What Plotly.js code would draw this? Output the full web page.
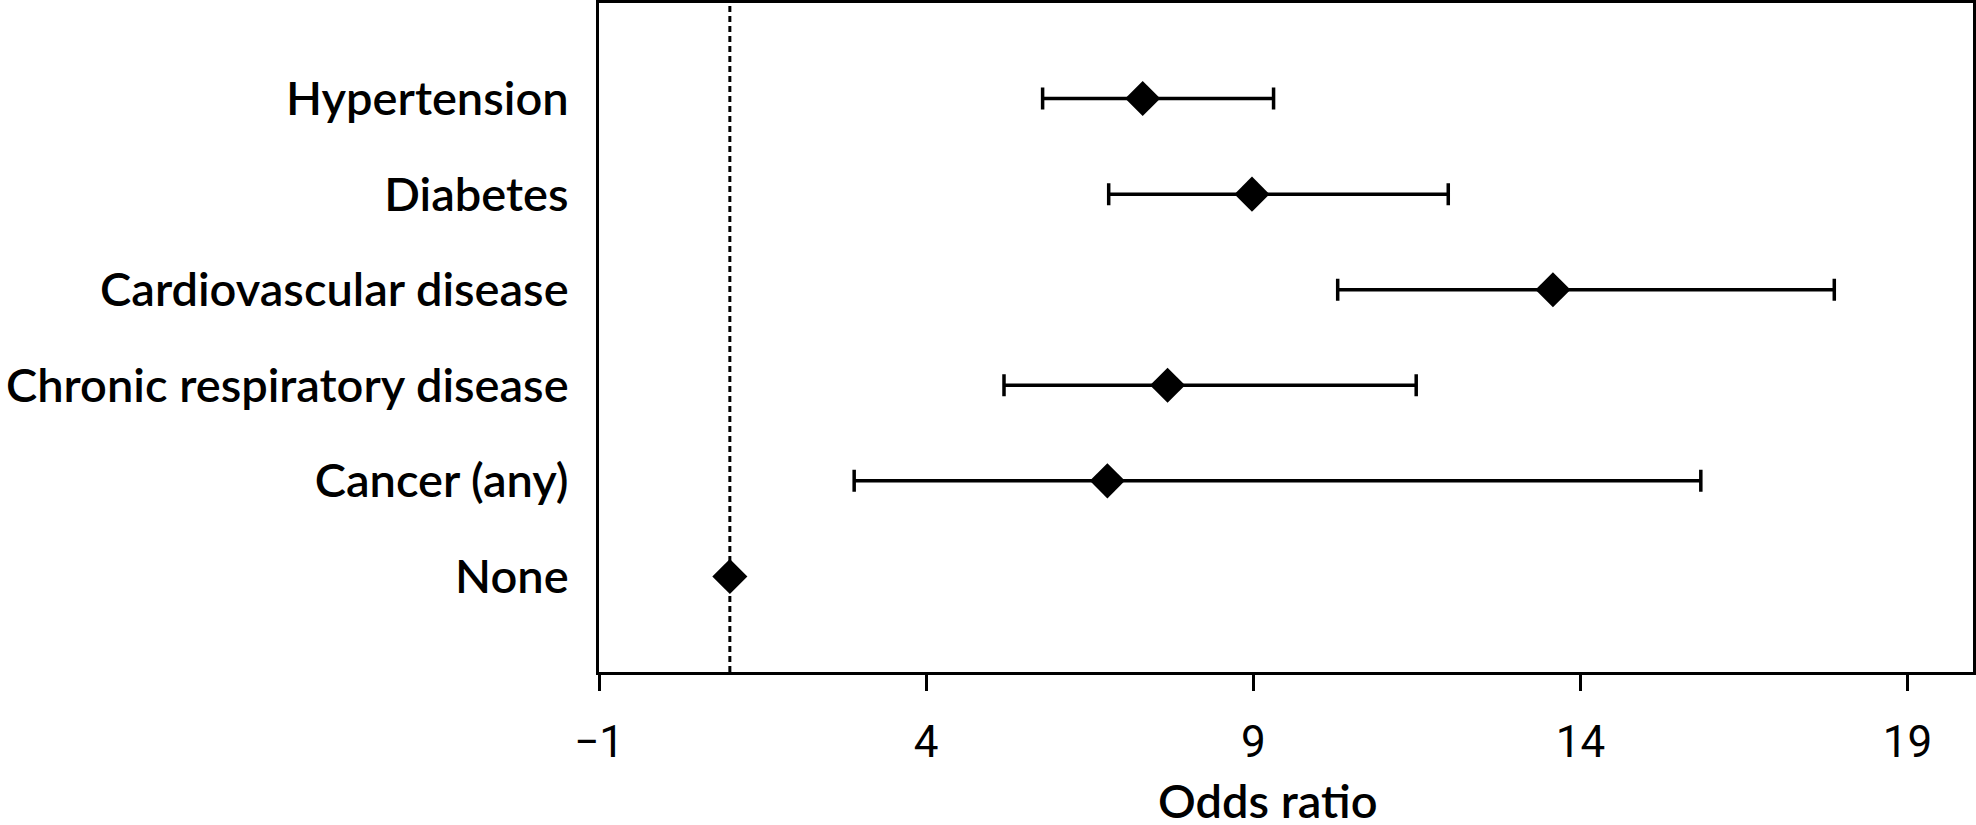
<!DOCTYPE html>
<html>
<head>
<meta charset="utf-8">
<script src="https://cdn.plot.ly/plotly-3.0.1.min.js"></script>
<style>
  html, body { margin: 0; padding: 0; background: #ffffff; }
  #chart { width: 1976px; height: 825px; }
</style>
</head>
<body>
<div id="chart"></div>
<script>
// Categories (top to bottom as shown)
const categories = [
  "Hypertension",
  "Diabetes",
  "Cardiovascular disease",
  "Chronic respiratory disease",
  "Cancer (any)",
  "None"
];
// Odds ratio point estimates
const oddsRatio = [7.31, 8.98, 13.58, 7.69, 6.77, 1.0];
// 95% CI lower / upper bounds
const ciLower = [5.78, 6.79, 10.29, 5.19, 2.90, 1.0];
const ciUpper = [9.31, 11.98, 17.88, 11.49, 15.84, 1.0];
// Reference line (no effect)
const referenceValue = 1;
// X axis tick values
const xTicks = [-1, 4, 9, 14, 19];
const xTitle = "Odds ratio";

const errPlus = oddsRatio.map((v, i) => ciUpper[i] - v);
const errMinus = oddsRatio.map((v, i) => v - ciLower[i]);

const trace = {
  type: "scatter",
  mode: "markers",
  x: oddsRatio,
  y: categories,
  marker: { symbol: "diamond", size: 27, color: "#000000" },
  error_x: {
    type: "data",
    symmetric: false,
    array: errPlus,
    arrayminus: errMinus,
    color: "#000000",
    thickness: 3.5,
    width: 11
  },
  hoverinfo: "skip",
  cliponaxis: false
};

const layout = {
  width: 1976,
  height: 825,
  margin: { l: 599, r: 3, t: 3, b: 153 },
  paper_bgcolor: "#ffffff",
  plot_bgcolor: "#ffffff",
  showlegend: false,
  xaxis: {
    range: [-1, 20],
    tickvals: xTicks,
    ticks: "outside",
    ticklen: 16,
    tickwidth: 3,
    tickcolor: "#000000",
    showline: true,
    linewidth: 3,
    linecolor: "#000000",
    mirror: true,
    showgrid: false,
    zeroline: false,
    ticklabelstandoff: 13,
    tickfont: { family: "Roboto", size: 44, color: "#000000", weight: 400 }
  },
  yaxis: {
    type: "category",
    categoryorder: "array",
    categoryarray: categories.slice().reverse(),
    range: [-1, 6],
    ticks: "",
    showline: true,
    linewidth: 3,
    linecolor: "#000000",
    mirror: true,
    showgrid: false,
    zeroline: false,
    ticklabelstandoff: 18,
    tickfont: { family: "Lato", size: 47, color: "#000000", weight: 600 }
  },
  annotations: [{
    text: xTitle,
    xref: "paper",
    yref: "paper",
    x: 0.5,
    y: 0,
    xanchor: "center",
    yanchor: "top",
    xshift: -18,
    yshift: -98,
    showarrow: false,
    font: { family: "Lato", size: 47, color: "#000000", weight: 600 }
  }],
  shapes: [{
    type: "line",
    xref: "x",
    yref: "paper",
    x0: referenceValue,
    x1: referenceValue,
    y0: 0,
    y1: 1,
    layer: "below",
    line: { color: "#000000", width: 3, dash: "6px,4px" }
  }]
};

Plotly.newPlot("chart", [trace], layout, { displayModeBar: false, staticPlot: true });
</script>
</body>
</html>
